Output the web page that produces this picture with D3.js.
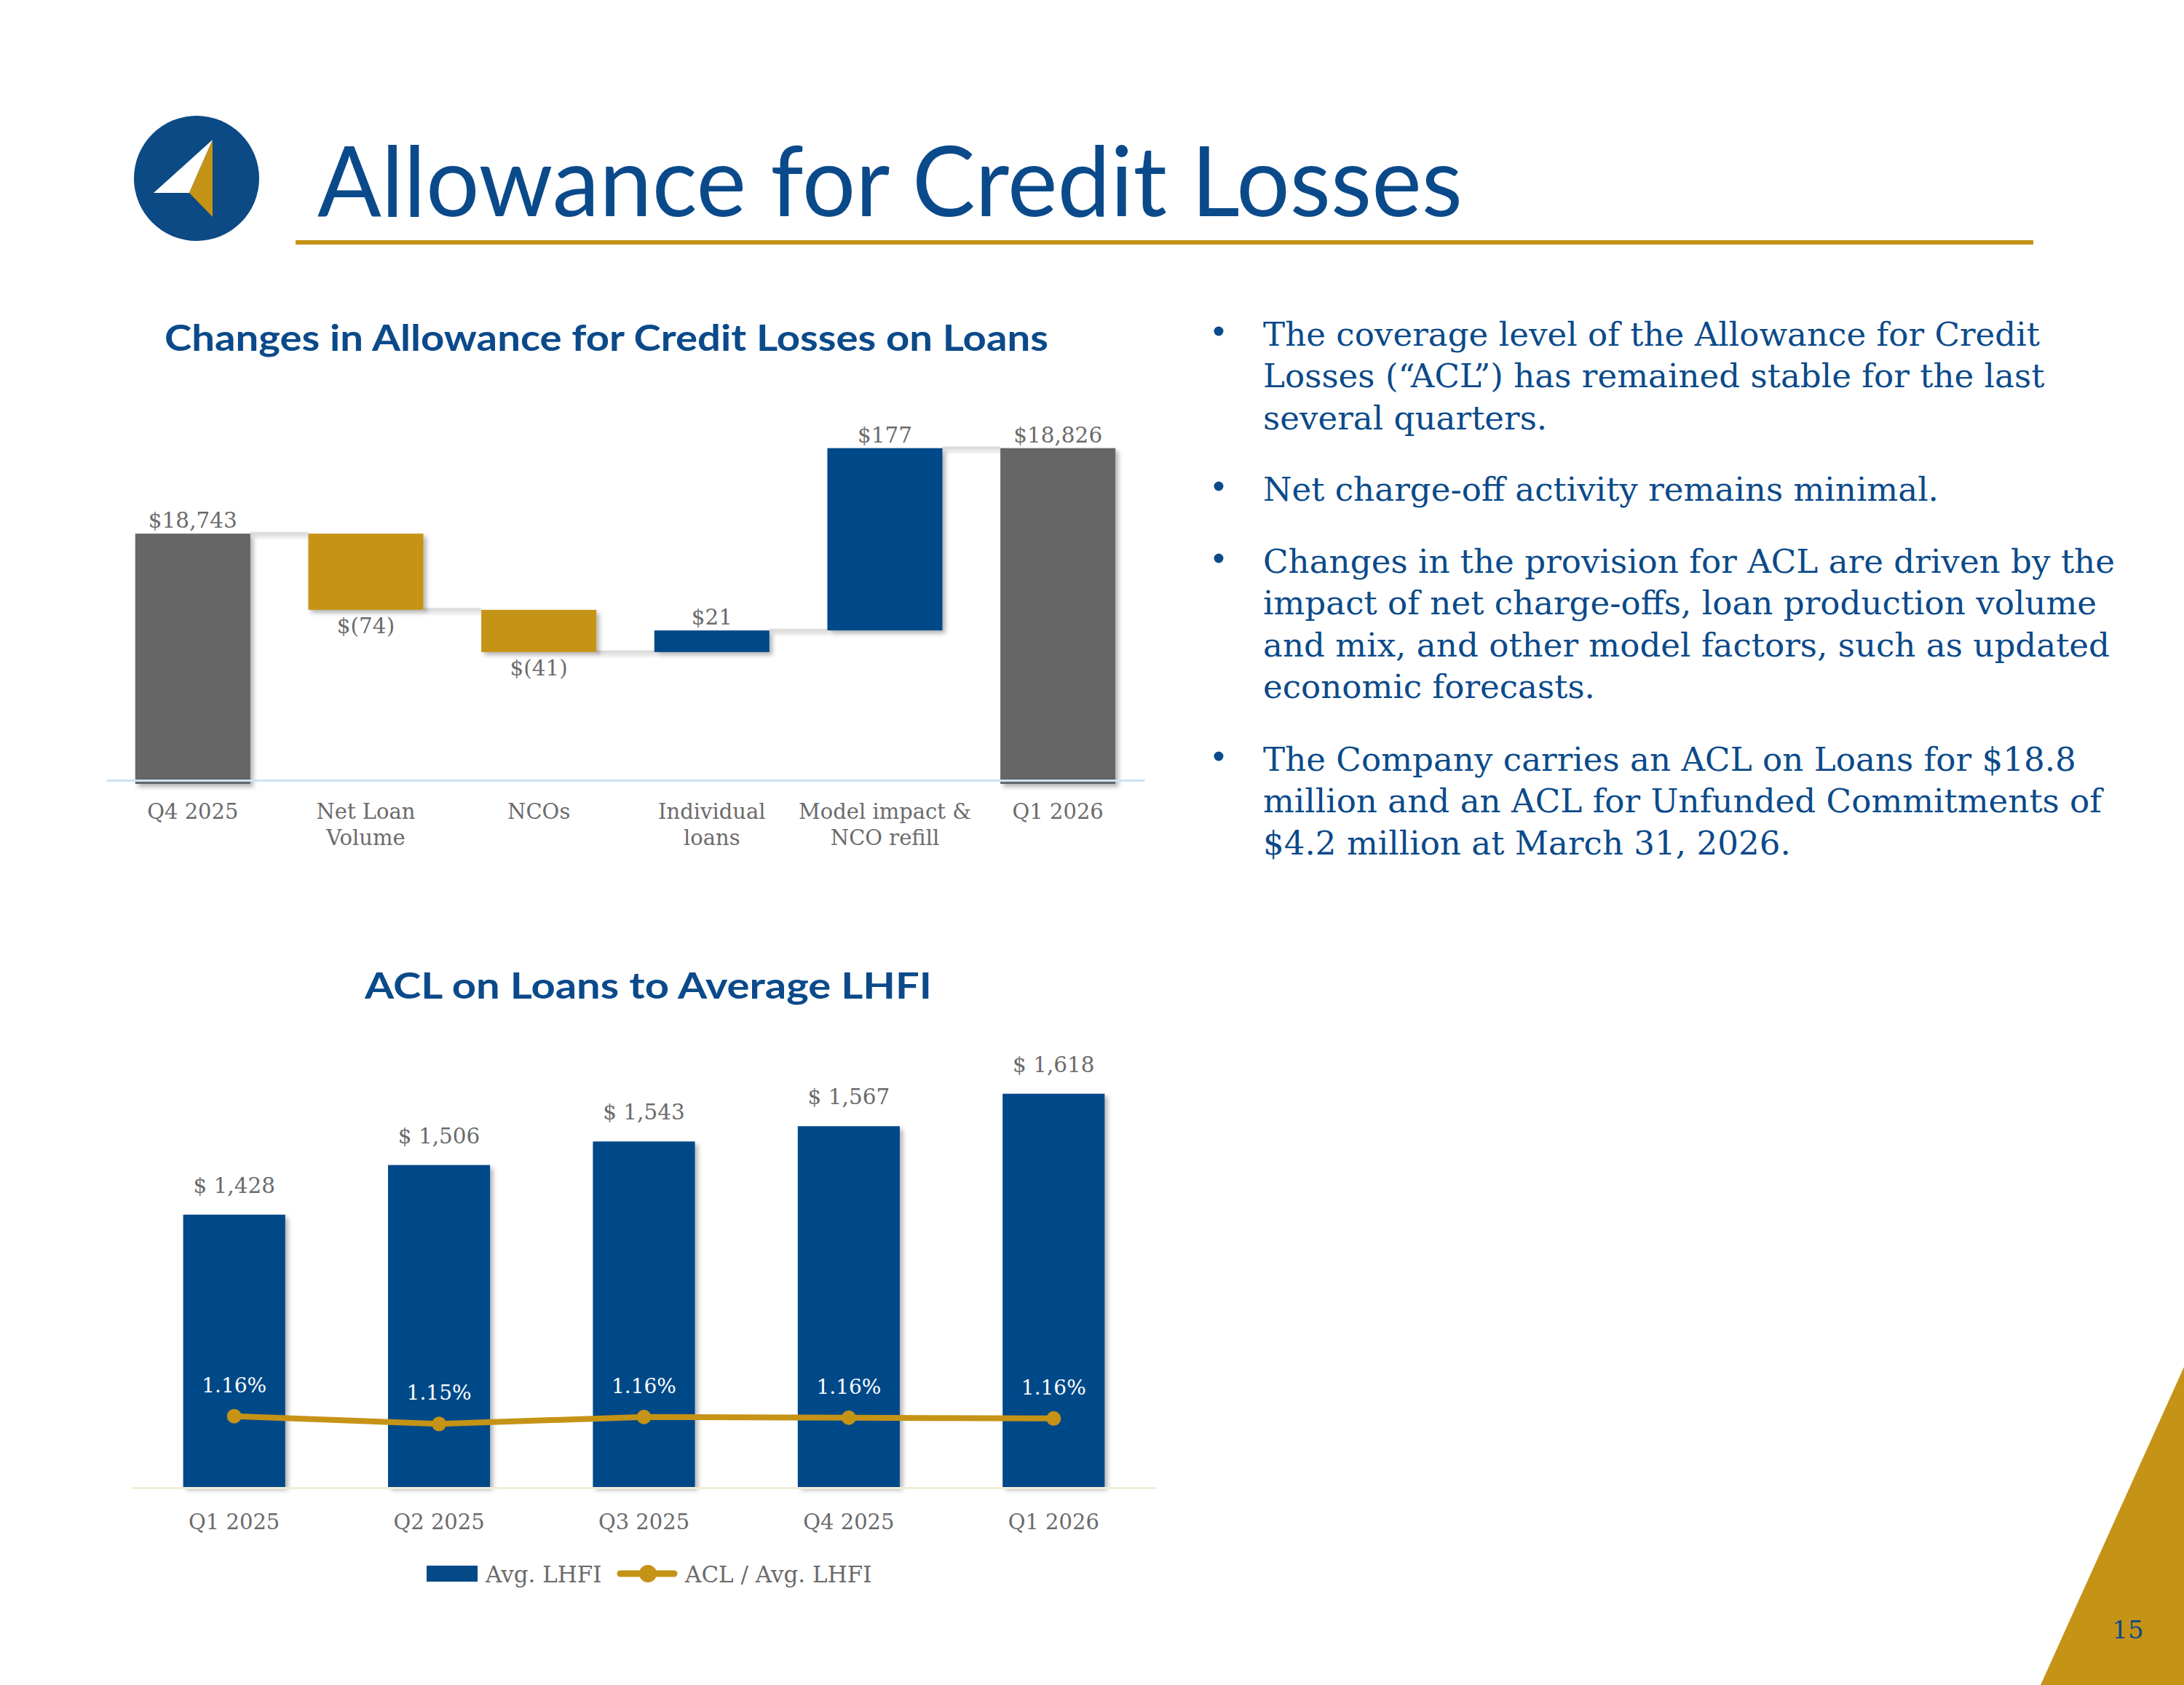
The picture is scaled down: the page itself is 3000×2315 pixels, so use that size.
<!DOCTYPE html>
<html><head><meta charset="utf-8">
<script src="https://cdn.jsdelivr.net/npm/d3@7"></script>
<style>html,body{margin:0;padding:0;background:#fff;} svg{display:block}</style>
</head><body>
<script>
// ---------------- DATA ----------------
const wfCategories = ["Q4 2025", "Net Loan Volume", "NCOs", "Individual loans", "Model impact & NCO refill", "Q1 2026"];
const wfTickLines = [["Q4 2025"], ["Net Loan", "Volume"], ["NCOs"], ["Individual", "loans"], ["Model impact &", "NCO refill"], ["Q1 2026"]];
const wfValues = [18743, -74, -41, 21, 177, 18826];
const wfKinds = ["total", "delta", "delta", "delta", "delta", "total"];
const wfLabels = ["$18,743", "$(74)", "$(41)", "$21", "$177", "$18,826"];

const quarters = ["Q1 2025", "Q2 2025", "Q3 2025", "Q4 2025", "Q1 2026"];
const avgLHFI = [1428, 1506, 1543, 1567, 1618];
const aclRatio = [1.161, 1.151, 1.160, 1.159, 1.158];
const aclLabels = ["1.16%", "1.15%", "1.16%", "1.16%", "1.16%"];

const pageTitle = "Allowance for Credit Losses";
const chart1Title = "Changes in Allowance for Credit Losses on Loans";
const chart2Title = "ACL on Loans to Average LHFI";
const legendNames = ["Avg. LHFI", "ACL / Avg. LHFI"];
const pageNumber = "15";
const bullets = [
  ["The coverage level of the Allowance for Credit", "Losses (\u201CACL\u201D) has remained stable for the last", "several quarters."],
  ["Net charge-off activity remains minimal."],
  ["Changes in the provision for ACL are driven by the", "impact of net charge-offs, loan production volume", "and mix, and other model factors, such as updated", "economic forecasts."],
  ["The Company carries an ACL on Loans for $18.8", "million and an ACL for Unfunded Commitments of", "$4.2 million at March 31, 2026."]
];

// ---------------- STYLE ----------------
const BLUE = "#044a88", TITLE_BLUE = "#0b4a8a", GOLD = "#c59316", GRAY = "#666666", LABEL = "#6b6b6b";
const SERIF = "'DejaVu Serif', serif", SANS = "Lato, 'Open Sans', sans-serif";

const W = 3000, H = 2315;
const svg = d3.select("body").append("svg").attr("width", W).attr("height", H);
svg.append("rect").attr("width", W).attr("height", H).attr("fill", "#fff");

const defs = svg.append("defs");
const f = defs.append("filter").attr("id", "shadow").attr("x", "-20%").attr("y", "-20%").attr("width", "150%").attr("height", "150%");
f.append("feDropShadow").attr("dx", 4).attr("dy", 4).attr("stdDeviation", 3).attr("flood-color", "#000").attr("flood-opacity", 0.3);
const f2 = defs.append("filter").attr("id", "soft").attr("x", "-20%").attr("y", "-200%").attr("width", "140%").attr("height", "500%");
f2.append("feDropShadow").attr("dx", 2).attr("dy", 3).attr("stdDeviation", 2).attr("flood-color", "#000").attr("flood-opacity", 0.12);

// ---------------- HEADER ----------------
const logo = svg.append("g").attr("transform", "translate(270,245)");
logo.append("circle").attr("r", 86).attr("fill", "#0b4a84");
logo.append("path").attr("d", "M22,-53 L-59,20 L-10,20 Z").attr("fill", "#fff");
logo.append("path").attr("d", "M22,-53 L-10,20 L22,53 Z").attr("fill", GOLD);

svg.append("text").attr("x", 436).attr("y", 297).text(pageTitle)
  .attr("font-family", SANS).attr("font-size", 134).attr("fill", TITLE_BLUE)
  .attr("textLength", 1573).attr("lengthAdjust", "spacingAndGlyphs");
svg.append("rect").attr("x", 406).attr("y", 330).attr("width", 2387).attr("height", 6).attr("fill", GOLD);

// ---------------- WATERFALL ----------------
svg.append("text").attr("x", 226).attr("y", 482).text(chart1Title)
  .attr("font-family", SANS).attr("font-weight", 700).attr("font-size", 50).attr("fill", TITLE_BLUE)
  .attr("textLength", 1214).attr("lengthAdjust", "spacingAndGlyphs");

const wfX = d3.scaleBand().domain(wfCategories).range([146, 1572]).paddingInner(0.335).paddingOuter(0.1675);
const wfY = d3.scaleLinear().domain([18500, 18900]).range([1077, 511]);

let running = 0;
const wfRows = wfCategories.map((c, i) => {
  const v = wfValues[i];
  let start, end;
  if (wfKinds[i] === "total") { start = wfY.domain()[0]; end = v; running = v; }
  else { start = running; end = running + v; running = end; }
  return { c, v, kind: wfKinds[i], lo: Math.min(start, end), hi: Math.max(start, end), end, label: wfLabels[i] };
});

// connectors
const conn = svg.append("g").attr("filter", "url(#soft)");
wfRows.slice(0, -1).forEach((d, i) => {
  const n = wfRows[i + 1];
  conn.append("line")
    .attr("x1", wfX(d.c) + wfX.bandwidth()).attr("x2", wfX(n.c))
    .attr("y1", wfY(d.end)).attr("y2", wfY(d.end))
    .attr("stroke", "#dedede").attr("stroke-width", 5);
});

svg.append("g").attr("filter", "url(#shadow)").selectAll("rect").data(wfRows).join("rect")
  .attr("x", d => wfX(d.c)).attr("width", wfX.bandwidth())
  .attr("y", d => wfY(d.hi)).attr("height", d => wfY(d.lo) - wfY(d.hi))
  .attr("fill", d => d.kind === "total" ? GRAY : (d.v < 0 ? GOLD : BLUE));

svg.append("g").selectAll("text").data(wfRows).join("text")
  .attr("x", d => wfX(d.c) + wfX.bandwidth() / 2)
  .attr("y", d => (d.kind === "delta" && d.v < 0) ? wfY(d.lo) + 32 : wfY(d.hi) - 8)
  .attr("text-anchor", "middle").attr("font-family", SERIF).attr("font-size", 29.5).attr("fill", LABEL)
  .text(d => d.label);

const wfAxis = svg.append("g").attr("transform", "translate(0,1072)")
  .call(d3.axisBottom(wfX).tickSize(0).tickSizeOuter(0).tickPadding(32));
wfAxis.select(".domain").attr("stroke", "#cfe2f3").attr("stroke-width", 3);
wfAxis.selectAll(".tick text").each(function (d, i) {
  const t = d3.select(this).text(null).attr("font-family", SERIF).attr("font-size", 29).attr("fill", LABEL);
  wfTickLines[i].forEach((ln, j) => {
    t.append("tspan").attr("x", 0).attr("dy", j === 0 ? "0.71em" : "1.27em").text(ln);
  });
});

// ---------------- BAR + LINE ----------------
svg.append("text").attr("x", 501).attr("y", 1372).text(chart2Title)
  .attr("font-family", SANS).attr("font-weight", 700).attr("font-size", 50).attr("fill", TITLE_BLUE)
  .attr("textLength", 779).attr("lengthAdjust", "spacingAndGlyphs");

const x2 = d3.scaleBand().domain(quarters).range([181, 1588]).paddingInner(0.502).paddingOuter(0.251);
const yL = d3.scaleLinear().domain([1000, 1700]).range([2043, 1431]);
const yR = d3.scaleLinear().domain([1.07, 1.17]).range([2043, 1936]);
const rows2 = quarters.map((q, i) => ({ q, v: avgLHFI[i], r: aclRatio[i], rl: aclLabels[i] }));

svg.append("g").attr("filter", "url(#shadow)").selectAll("rect").data(rows2).join("rect")
  .attr("x", d => x2(d.q)).attr("width", x2.bandwidth())
  .attr("y", d => yL(d.v)).attr("height", d => yL(1000) - yL(d.v))
  .attr("fill", BLUE);

svg.append("g").selectAll("text").data(rows2).join("text")
  .attr("x", d => x2(d.q) + x2.bandwidth() / 2).attr("y", d => yL(d.v) - 30)
  .attr("text-anchor", "middle").attr("font-family", SERIF).attr("font-size", 29.5).attr("fill", LABEL)
  .text(d => "$ " + d3.format(",")(d.v));

const ax2 = svg.append("g").attr("transform", "translate(0,2044)")
  .call(d3.axisBottom(x2).tickSize(0).tickSizeOuter(0).tickPadding(36));
ax2.select(".domain").attr("stroke", "#f1ecd9").attr("stroke-width", 3);
ax2.selectAll(".tick text").attr("font-family", SERIF).attr("font-size", 29).attr("fill", LABEL);

const line = d3.line().x(d => x2(d.q) + x2.bandwidth() / 2).y(d => yR(d.r));
svg.append("path").datum(rows2).attr("d", line).attr("fill", "none")
  .attr("stroke", GOLD).attr("stroke-width", 8).attr("stroke-linejoin", "round");
svg.append("g").selectAll("circle").data(rows2).join("circle")
  .attr("cx", d => x2(d.q) + x2.bandwidth() / 2).attr("cy", d => yR(d.r)).attr("r", 10).attr("fill", GOLD);
svg.append("g").selectAll("text").data(rows2).join("text")
  .attr("x", d => x2(d.q) + x2.bandwidth() / 2).attr("y", d => yR(d.r) - 33)
  .attr("text-anchor", "middle").attr("font-family", SERIF).attr("font-size", 28).attr("fill", "#fff")
  .text(d => d.rl);

// legend
const lg = svg.append("g");
lg.append("rect").attr("x", 586).attr("y", 2151).attr("width", 70).attr("height", 22).attr("fill", BLUE);
lg.append("text").attr("x", 667).attr("y", 2174).text(legendNames[0])
  .attr("font-family", SERIF).attr("font-size", 31).attr("fill", LABEL);
lg.append("line").attr("x1", 852).attr("x2", 926).attr("y1", 2162).attr("y2", 2162)
  .attr("stroke", GOLD).attr("stroke-width", 9).attr("stroke-linecap", "round");
lg.append("circle").attr("cx", 890).attr("cy", 2162).attr("r", 12).attr("fill", GOLD);
lg.append("text").attr("x", 941).attr("y", 2174).text(legendNames[1])
  .attr("font-family", SERIF).attr("font-size", 31).attr("fill", LABEL);

// ---------------- BULLETS ----------------
const bg = svg.append("g");
const probe = bg.append("text").attr("font-family", SERIF).attr("font-size", 50).text(bullets[0][0]);
const fs = 50 * 1067 / probe.node().getComputedTextLength();
probe.remove();
const paraStarts = [475, 688, 787, 1059];
const lineGap = 57.4;
bullets.forEach((p, i) => {
  bg.append("circle").attr("cx", 1674).attr("cy", paraStarts[i] - 20).attr("r", 6.5).attr("fill", TITLE_BLUE);
  p.forEach((ln, j) => {
    bg.append("text").attr("x", 1735).attr("y", paraStarts[i] + j * lineGap)
      .attr("font-family", SERIF).attr("font-size", fs).attr("fill", TITLE_BLUE).text(ln);
  });
});

// ---------------- CORNER ----------------
svg.append("path").attr("d", "M3000,1878 L2803,2315 L3000,2315 Z").attr("fill", GOLD);
svg.append("text").attr("x", 2923).attr("y", 2251).attr("text-anchor", "middle")
  .attr("font-family", SERIF).attr("font-size", 34).attr("fill", TITLE_BLUE).text(pageNumber);
</script>
</body></html>
